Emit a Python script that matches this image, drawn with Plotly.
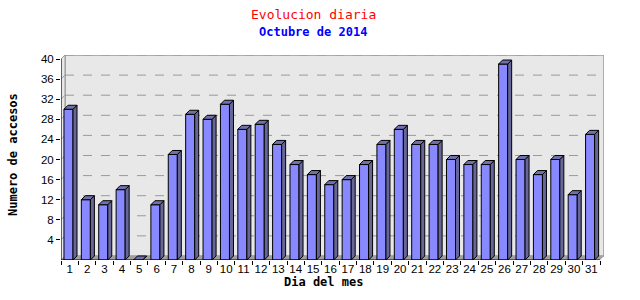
import plotly.graph_objects as go

days = list(range(1, 32))
day_labels = [str(d) for d in days]
visits = [30, 12, 11, 14, 0, 11, 21, 29, 28, 31, 26, 27, 23, 19, 17, 15, 16, 19,
          23, 26, 23, 23, 20, 19, 19, 39, 20, 17, 20, 13, 25]
y_ticks = [4, 8, 12, 16, 20, 24, 28, 32, 36, 40]

W, H = 640, 300
L, R, T, B = 61, 36, 55, 40
plot_w = W - L - R
plot_h = H - T - B
px_per_cat = 539 / 31.0
dx = 4 / px_per_cat
ymax = 40
px_per_unit = 200 / 40.0
dy = 4 / px_per_unit
x0, x1 = 0.5, 31.5
offset, width = -0.33, 0.52

FRONT = "#8888ff"
SIDE = "#666699"
TOP = "#7070aa"
WALL = "#e8e8e8"
GREY = "#999999"

fig = go.Figure()

shapes = []
shapes.append(dict(type="rect", xref="x", yref="y", x0=x0 + dx, x1=x1 + dx, y0=dy, y1=ymax + dy,
                   fillcolor=WALL, line=dict(color=GREY, width=1.5), layer="below"))
shapes.append(dict(type="path", xref="x", yref="y",
                   path=f"M {x0},0 L {x0},{ymax} L {x0+dx},{ymax+dy} L {x0+dx},{dy} Z",
                   fillcolor=WALL, line=dict(color=GREY, width=1), layer="below"))
shapes.append(dict(type="path", xref="x", yref="y",
                   path=f"M {x0},0 L {x1},0 L {x1+dx},{dy} L {x0+dx},{dy} Z",
                   fillcolor="#a0a0a0", line=dict(color=GREY, width=0), layer="below"))
for v in y_ticks:
    shapes.append(dict(type="line", xref="x", yref="y", x0=x0 + dx, x1=x1 + dx, y0=v + dy, y1=v + dy,
                       line=dict(color="#999999", width=1, dash="dash"), layer="below"))
    shapes.append(dict(type="line", xref="x", yref="y", x0=x0, x1=x0 + dx, y0=v, y1=v + dy,
                       line=dict(color="#999999", width=1), layer="below"))
shapes.append(dict(type="line", xref="x", yref="y", x0=x0, x1=x1, y0=0, y1=0,
                   line=dict(color="black", width=1)))
shapes.append(dict(type="line", xref="x", yref="y", x0=x0, x1=x0, y0=0, y1=ymax,
                   line=dict(color="black", width=1)))

fig.add_trace(go.Bar(x=days, y=visits, offset=offset, width=width,
                     marker=dict(color=FRONT, line=dict(color="black", width=1)),
                     hoverinfo="x+y"))

sx, sy, tx, ty = [], [], [], []
for d, v in zip(days, visits):
    xl = d + offset
    xr = xl + width
    sx += [xr, xr, xr + dx, xr + dx, xr, None]
    sy += [0, v, v + dy, dy, 0, None]
    tx += [xl, xr, xr + dx, xl + dx, xl, None]
    ty += [v, v, v + dy, v + dy, v, None]
fig.add_trace(go.Scatter(x=sx, y=sy, mode="lines", fill="toself", fillcolor=SIDE,
                         line=dict(color="black", width=1), hoverinfo="skip"))
fig.add_trace(go.Scatter(x=tx, y=ty, mode="lines", fill="toself", fillcolor=TOP,
                         line=dict(color="black", width=1), hoverinfo="skip"))

mono = "DejaVu Sans Mono"
tickfont = dict(family="Liberation Sans", size=11.5, color="black")
fig.update_layout(
    width=W, height=H,
    margin=dict(l=L, r=R, t=T, b=B),
    paper_bgcolor="white", plot_bgcolor="white",
    showlegend=False,
    shapes=shapes,
    xaxis=dict(range=[x0, x1 + dx], tickmode="array", tickvals=days, ticktext=day_labels,
               ticks="", showgrid=False, zeroline=False, showline=False,
               tickfont=tickfont,
               minor=dict(tickmode="array", tickvals=[d + 0.5 for d in [0] + days],
                          ticks="outside", ticklen=4, tickcolor="black", showgrid=False),
               fixedrange=True),
    yaxis=dict(range=[0, ymax + dy], tickmode="array", tickvals=y_ticks,
               ticktext=[str(t) for t in y_ticks], ticks="outside", ticklen=4,
               tickcolor="black", showgrid=False, zeroline=False, showline=False,
               tickfont=tickfont,
               fixedrange=True),
    annotations=[
        dict(text="Evolucion diaria", showarrow=False, font=dict(family=mono, size=13, color="red")),
        dict(text="<b>Octubre de 2014</b>", showarrow=False, font=dict(family=mono, size=12, color="blue")),
        dict(text="<b>Dia del mes</b>", showarrow=False, font=dict(family=mono, size=12, color="black")),
        dict(text="<b>Numero de accesos</b>", showarrow=False, textangle=-90,
             font=dict(family=mono, size=12, color="black")),
    ],
)

def px_to_paper(px, py):
    return (px - L) / plot_w, (H - B - py) / plot_h

pos = [(313, 14), (313, 32), (323, 282), (13, 155)]
anns = list(fig.layout.annotations)
for a, (px, py) in zip(anns, pos):
    xp, yp = px_to_paper(px, py)
    a.update(x=xp, y=yp, xref="paper", yref="paper", xanchor="center", yanchor="middle")
fig.layout.annotations = anns

fig.write_html("out.html")
